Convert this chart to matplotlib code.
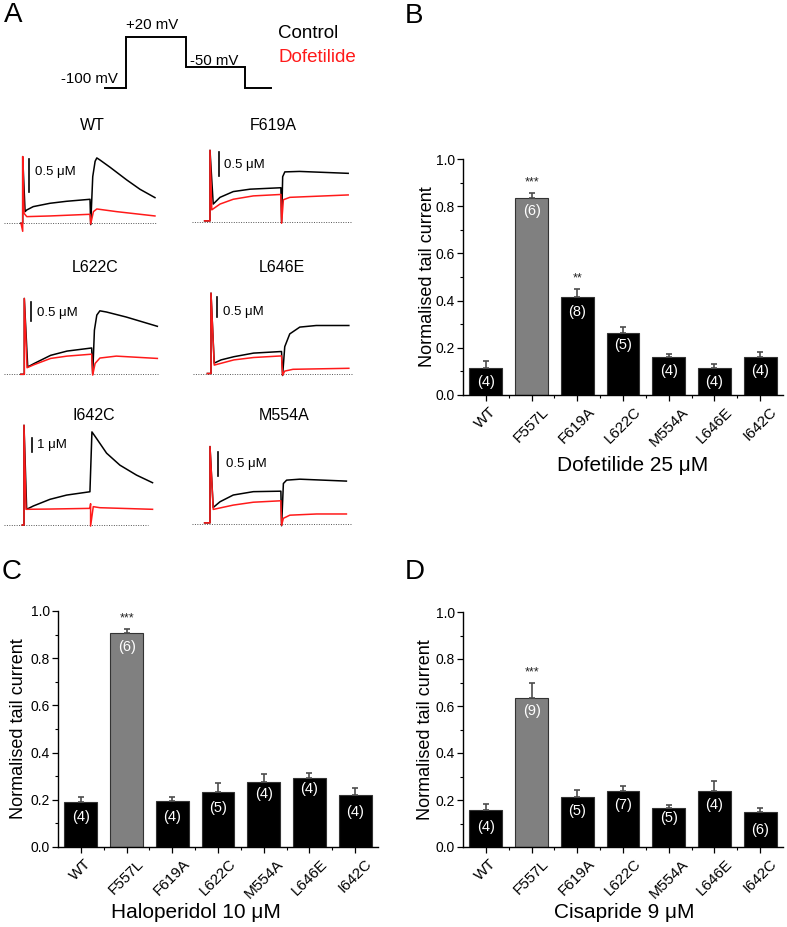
import matplotlib
matplotlib.use("Agg")
import matplotlib.pyplot as plt
import numpy as np
from matplotlib.ticker import MultipleLocator, FixedLocator

plt.rcParams['font.family'] = ['Liberation Sans', 'DejaVu Sans']

# ---------------- data ----------------
CATEGORIES = ['WT', 'F557L', 'F619A', 'L622C', 'M554A', 'L646E', 'I642C']

DOF_MEAN = [0.115, 0.834, 0.414, 0.262, 0.163, 0.115, 0.159]
DOF_SEM = [0.031, 0.022, 0.037, 0.028, 0.010, 0.016, 0.024]
DOF_N = [4, 6, 8, 5, 4, 4, 4]
DOF_SIG = ['', '***', '**', '', '', '', '']

HAL_MEAN = [0.189, 0.908, 0.193, 0.234, 0.276, 0.294, 0.220]
HAL_SEM = [0.022, 0.017, 0.018, 0.039, 0.034, 0.019, 0.030]
HAL_N = [4, 6, 4, 5, 4, 4, 4]
HAL_SIG = ['', '***', '', '', '', '', '']

CIS_MEAN = [0.158, 0.635, 0.211, 0.239, 0.167, 0.239, 0.151]
CIS_SEM = [0.027, 0.061, 0.032, 0.020, 0.011, 0.041, 0.014]
CIS_N = [4, 9, 5, 7, 5, 4, 6]
CIS_SIG = ['', '***', '', '', '', '', '']

# voltage protocol (s, mV)
PROTO_T = [-0.7, 0, 0, 2, 2, 4, 4, 4.87]
PROTO_V = [-100, -100, 20, 20, -50, -50, -100, -100]

# current traces (time s, current uA)
WT_CTRL_T = [-0.06, 0, 0, 0.07, 0.12, 0.31, 0.8, 1.29, 1.98, 2.0, 2.06, 2.13, 2.18, 2.27, 2.57, 3.06, 3.45, 3.89]
WT_CTRL_I = [0, 0, 1.0, 0.175, 0.2, 0.25, 0.3, 0.33, 0.36, -0.02, 0.7, 0.93, 0.98, 0.95, 0.84, 0.65, 0.51, 0.385]
WT_DOF_T = [-0.05, 0, 0, 0.04, 0.12, 0.8, 1.98, 2.0, 2.08, 2.18, 2.76, 3.89]
WT_DOF_I = [0, -0.12, 1.0, 0.15, 0.1, 0.11, 0.135, -0.01, 0.175, 0.215, 0.175, 0.11]

F619A_CTRL_T = [-0.15, 0, 0, 0.09, 0.28, 0.65, 1.12, 1.98, 2.0, 2.03, 2.09, 2.5, 3.86]
F619A_CTRL_I = [0.03, 0.03, 1.5, 0.38, 0.52, 0.64, 0.69, 0.72, 0.0, 0.95, 1.05, 1.06, 1.02]
F619A_DOF_T = [-0.15, 0, 0, 0.05, 0.28, 0.65, 1.21, 1.98, 2.0, 2.05, 2.23, 3.86]
F619A_DOF_I = [0.03, 0.03, 1.5, 0.26, 0.38, 0.48, 0.55, 0.58, -0.02, 0.47, 0.52, 0.57]

L622C_CTRL_T = [-0.1, 0, 0, 0.1, 0.29, 0.77, 1.25, 1.97, 2.0, 2.05, 2.12, 2.21, 2.4, 2.98, 3.89]
L622C_CTRL_I = [0, 0, 1.96, 0.19, 0.28, 0.49, 0.6, 0.68, 0.0, 1.14, 1.53, 1.64, 1.61, 1.48, 1.24]
L622C_DOF_T = [-0.1, 0, 0, 0.08, 0.29, 0.77, 1.25, 1.97, 2.0, 2.07, 2.21, 2.69, 3.89]
L622C_DOF_I = [0, 0, 1.96, 0.17, 0.25, 0.41, 0.47, 0.52, -0.02, 0.28, 0.42, 0.47, 0.41]

L646E_CTRL_T = [-0.1, 0, 0, 0.09, 0.28, 0.64, 1.19, 1.97, 2.0, 2.06, 2.2, 2.48, 2.94, 3.85]
L646E_CTRL_I = [0.02, 0.02, 2.03, 0.28, 0.36, 0.44, 0.53, 0.57, -0.03, 0.69, 1.01, 1.18, 1.22, 1.22]
L646E_DOF_T = [-0.1, 0, 0, 0.09, 0.64, 1.19, 1.97, 2.0, 2.06, 2.29, 3.85]
L646E_DOF_I = [0.02, 0.02, 2.03, 0.23, 0.36, 0.42, 0.46, -0.02, 0.08, 0.125, 0.15]

I642C_CTRL_T = [-0.05, 0, 0, 0.08, 0.28, 0.78, 1.28, 1.98, 2.04, 2.18, 2.48, 2.88, 3.38, 3.86]
I642C_CTRL_I = [0, 0, 7.5, 1.18, 1.43, 1.93, 2.25, 2.5, 7.0, 6.5, 5.4, 4.5, 3.75, 3.18]
I642C_DOF_T = [-0.05, 0, 0, 0.06, 0.78, 1.98, 2.0, 2.0, 2.08, 2.28, 3.86]
I642C_DOF_I = [0, 0, 7.5, 1.18, 1.2, 1.25, 1.6, -0.08, 1.38, 1.3, 1.18]

M554A_CTRL_T = [-0.15, 0, 0, 0.09, 0.28, 0.65, 1.21, 1.98, 2.0, 2.05, 2.14, 2.51, 3.81]
M554A_CTRL_I = [0.03, 0.03, 1.62, 0.35, 0.47, 0.61, 0.68, 0.69, -0.03, 0.85, 0.92, 0.94, 0.9]
M554A_DOF_T = [-0.15, 0, 0, 0.09, 0.65, 1.21, 1.98, 2.0, 2.05, 2.23, 2.98, 3.81]
M554A_DOF_I = [0.03, 0.03, 1.62, 0.31, 0.4, 0.46, 0.49, -0.02, 0.125, 0.19, 0.215, 0.215]

# ---------------- layout ----------------
W, H = 787, 927
fig = plt.figure(figsize=(W / 100, H / 100), dpi=100)


def px_axes(x0, y0, x1, y1):
    return fig.add_axes([x0 / W, 1 - y1 / H, (x1 - x0) / W, (y1 - y0) / H])


def ftext(x, y, s, **kw):
    fig.text(x / W, 1 - y / H, s, **kw)


RED = '#ff1a1a'

# panel letters
for lx, ly, letter in [(4, 15, 'A'), (405, 16, 'B'), (2, 572, 'C'), (405, 572, 'D')]:
    ftext(lx, ly, letter, fontsize=20, ha='left', va='center')

# protocol
pax = px_axes(100, 30, 280, 95)
p_xs, p_pps = 126, 29.85
p_base, p_ppv = 88.3, 0.425
pax.set_xlim((100 - p_xs) / p_pps, (280 - p_xs) / p_pps)
pax.set_ylim(-100 - (95 - p_base) / p_ppv, -100 + (p_base - 30) / p_ppv)
pax.plot(PROTO_T, PROTO_V, color='black', lw=1.4, solid_joinstyle='miter')
pax.axis('off')
ftext(118, 79, '-100 mV', fontsize=10.8, ha='right', va='center')
ftext(126, 25, '+20 mV', fontsize=10.8, ha='left', va='center')
ftext(190, 61, '-50 mV', fontsize=10.8, ha='left', va='center')
ftext(278, 34, 'Control', fontsize=13.5, ha='left', va='center', color='black')
ftext(278, 57, 'Dofetilide', fontsize=13.5, ha='left', va='center', color=RED)

# trace panels: name, ctrl, dof, step_x, base_y, px/s, px/uA, dot range, title pos, bar x, bar bottom y, bar value, label pos, label
TRACE_PANELS = [
    ('WT', (WT_CTRL_T, WT_CTRL_I), (WT_DOF_T, WT_DOF_I), 22.7, 223.3, 34.0, 66.7, (4, 157), (92, 125), 29, 192, 0.5, (35, 172), '0.5 μM'),
    ('F619A', (F619A_CTRL_T, F619A_CTRL_I), (F619A_DOF_T, F619A_DOF_I), 210, 222.3, 35.8, 48, (192, 352), (273, 125), 219, 175.7, 0.5, (224, 165), '0.5 μM'),
    ('L622C', (L622C_CTRL_T, L622C_CTRL_I), (L622C_DOF_T, L622C_DOF_I), 24.3, 374.3, 34.2, 38.7, (4, 158), (95, 267), 31, 321, 0.5, (37, 313), '0.5 μM'),
    ('L646E', (L646E_CTRL_T, L646E_CTRL_I), (L646E_DOF_T, L646E_DOF_I), 211, 374.3, 35.8, 40, (193, 352), (282, 267), 217.3, 317.3, 0.5, (223, 311.7), '0.5 μM'),
    ('I642C', (I642C_CTRL_T, I642C_CTRL_I), (I642C_DOF_T, I642C_DOF_I), 24, 525, 33.3, 13.3, (4, 148), (94, 415), 31.7, 451.7, 1.0, (37, 445), '1 μM'),
    ('M554A', (M554A_CTRL_T, M554A_CTRL_I), (M554A_DOF_T, M554A_DOF_I), 210, 524.3, 35.8, 48, (192, 352), (284, 415), 218.3, 475.7, 0.5, (226, 464.3), '0.5 μM'),
]

for (name, ctrl, dof, sx, by, pps, ppu, dots, tpos, bx, bby, bval, lpos, ltxt) in TRACE_PANELS:
    x0, x1 = sx - 21, sx + 150
    y0, y1 = by - 112, by + 12
    ax = px_axes(x0, y0, x1, y1)
    ax.set_xlim((x0 - sx) / pps, (x1 - sx) / pps)
    ax.set_ylim(-(y1 - by) / ppu, (by - y0) / ppu)
    ax.axis('off')
    ax.plot([(dots[0] - sx) / pps, (dots[1] - sx) / pps], [0, 0], color='#555555', lw=0.7,
            linestyle=(0, (1, 1.5)))
    ax.plot(ctrl[0], ctrl[1], color='black', lw=1.1)
    ax.plot(dof[0], dof[1], color=RED, lw=1.1)
    bt = (bx - sx) / pps
    bi = (by - bby) / ppu
    ax.plot([bt, bt], [bi, bi + bval], color='black', lw=1.2)
    ax.text((lpos[0] - sx) / pps, (by - lpos[1]) / ppu, ltxt, fontsize=9.5, ha='left', va='center')
    ftext(tpos[0], tpos[1], name, fontsize=11.5, ha='center', va='center')


# ---------------- bar panels ----------------
def bar_panel(rect, means, sems, ns, sig, nlabel_y, title, title_xy, ylabel_x):
    ax = px_axes(*rect)
    x = np.arange(len(CATEGORIES))
    colors = ['black'] * len(CATEGORIES)
    colors[1] = '#808080'
    ax.bar(x, means, width=0.72, color=colors, edgecolor='#333333', linewidth=0.8,
           yerr=[np.zeros(len(means)), sems],
           error_kw=dict(ecolor='#4d4d4d', elinewidth=1.2, capsize=2.5, capthick=1.2), zorder=2)
    for xi, n, ny in zip(x, ns, nlabel_y):
        ax.text(xi, ny, f'({n})', color='white', fontsize=10.5, ha='center', va='center', zorder=3)
    for xi, s, m, e in zip(x, sig, means, sems):
        if s:
            ax.text(xi, m + e + 0.045, s, fontsize=9, ha='center', va='center', color='#222222')
    ax.set_xlim(-0.5, 6.5)
    ax.set_ylim(0, 1.0)
    ax.spines['top'].set_visible(False)
    ax.spines['right'].set_visible(False)
    for sp in ('left', 'bottom'):
        ax.spines[sp].set_linewidth(1.0)
    ax.yaxis.set_minor_locator(MultipleLocator(0.1))
    ax.set_yticks(np.arange(0, 1.01, 0.2))
    ax.set_yticklabels([f'{v:.1f}' for v in np.arange(0, 1.01, 0.2)])
    ax.set_xticks(x)
    ax.xaxis.set_minor_locator(FixedLocator(np.arange(0.5, 6.0, 1.0)))
    ax.set_xticklabels(CATEGORIES, rotation=45, ha='center', va='top', fontsize=11)
    ax.tick_params(axis='both', which='major', direction='out', length=4, width=0.9, pad=2)
    ax.tick_params(axis='y', which='major', labelsize=10)
    ax.tick_params(axis='both', which='minor', direction='out', length=2.5, width=0.8)
    ax.tick_params(axis='x', which='major', pad=3)
    ftext(title_xy[0], title_xy[1], title, fontsize=15, ha='center', va='center')
    ftext(ylabel_x, (rect[1] + rect[3]) / 2, 'Normalised tail current', fontsize=13,
          rotation=90, ha='center', va='center')
    return ax


bar_panel((463, 159, 783, 395), DOF_MEAN, DOF_SEM, DOF_N, DOF_SIG,
          [0.056, 0.78, 0.35, 0.21, 0.103, 0.056, 0.103],
          'Dofetilide 25 μM', (633, 465), 428)
bar_panel((58, 611, 378, 847), HAL_MEAN, HAL_SEM, HAL_N, HAL_SIG,
          [0.125, 0.846, 0.127, 0.167, 0.225, 0.247, 0.15],
          'Haloperidol 10 μM', (196, 912), 19)
bar_panel((463, 612, 783, 847), CIS_MEAN, CIS_SEM, CIS_N, CIS_SIG,
          [0.086, 0.58, 0.154, 0.18, 0.122, 0.18, 0.072],
          'Cisapride 9 μM', (624, 912), 425)

fig.savefig('out.png', dpi=100)
